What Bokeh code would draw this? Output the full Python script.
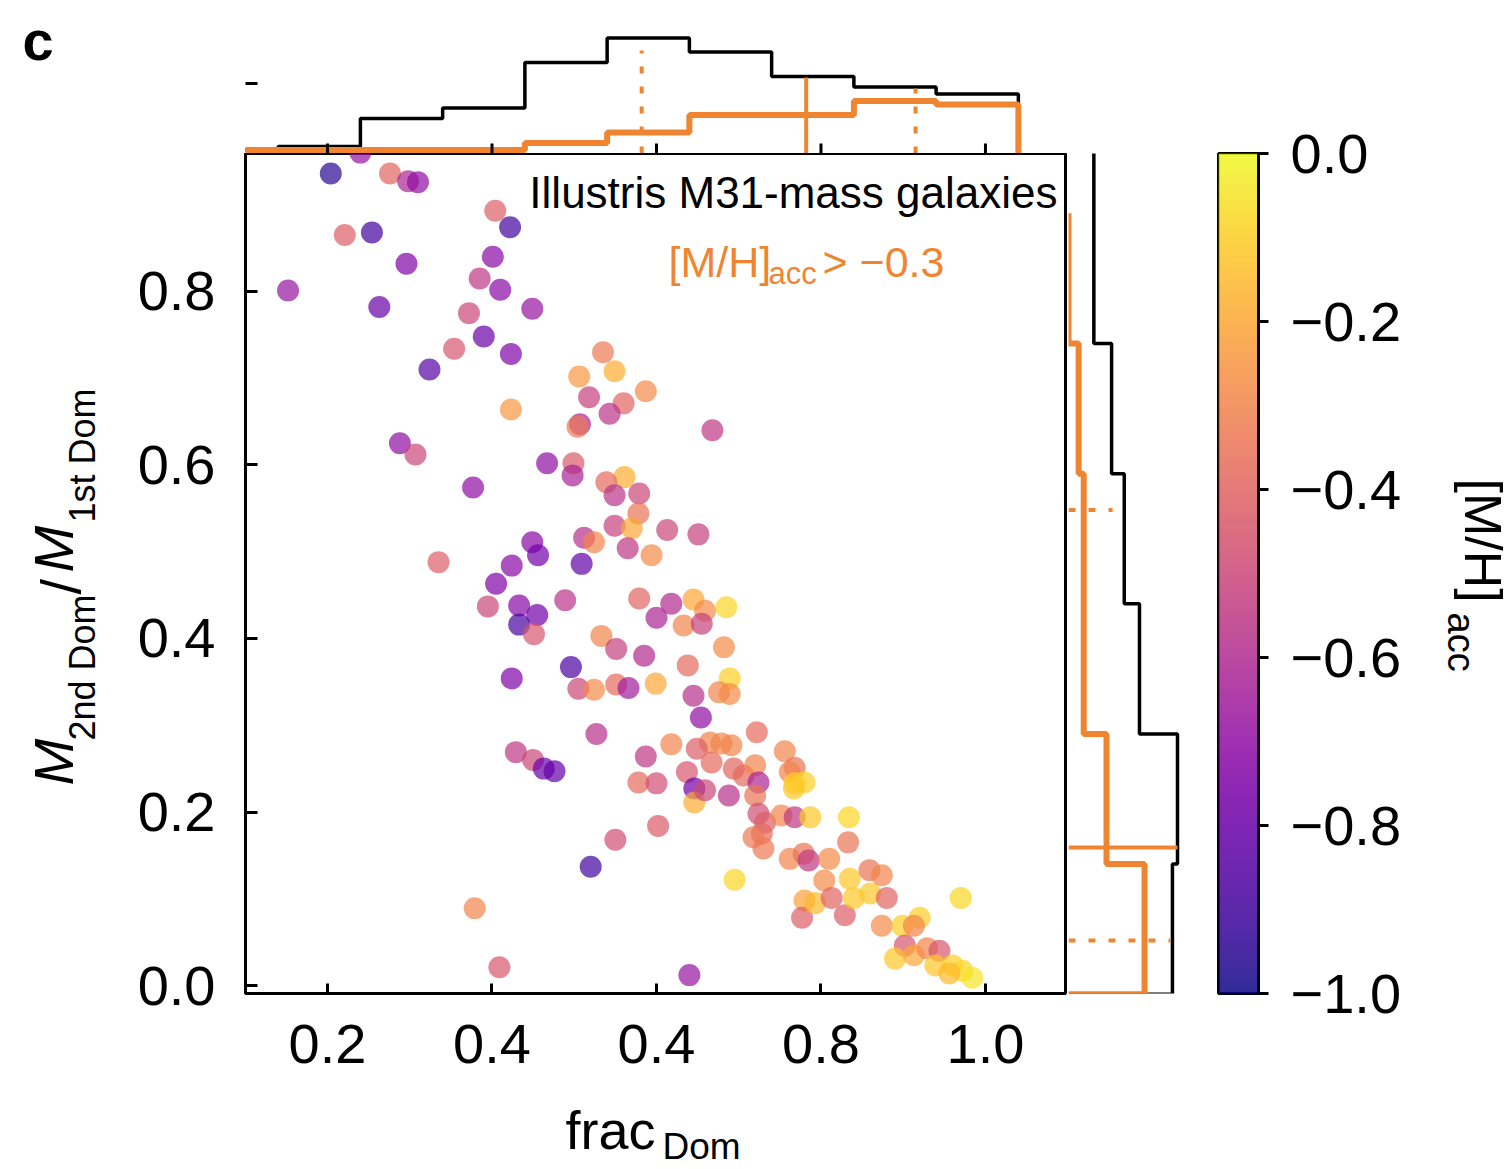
import numpy as np
from bokeh.plotting import figure
from bokeh.layouts import column, row
from bokeh.models import (Range1d, FixedTicker, Label, LinearColorMapper,
                          ColumnDataSource, CustomJSTickFormatter)
from bokeh.transform import linear_cmap
from bokeh.palettes import Plasma256
from bokeh.embed import file_html
from bokeh.resources import INLINE

# ---------------- data ----------------
frac_dom = [0.204, 0.240, 0.276, 0.298, 0.310, 0.221, 0.254, 0.296, 0.152, 0.263,
            0.404, 0.422, 0.401, 0.385, 0.410, 0.449, 0.372, 0.390, 0.354, 0.423,
            0.324, 0.423, 0.535, 0.549, 0.506, 0.587, 0.518, 0.560, 0.543, 0.507,
            0.504, 0.288, 0.307, 0.377, 0.467, 0.499, 0.498, 0.561, 0.539, 0.549,
            0.579, 0.578, 0.549, 0.570, 0.512, 0.524, 0.565, 0.594, 0.449, 0.456,
            0.509, 0.335, 0.424, 0.405, 0.395, 0.433, 0.455, 0.433, 0.451, 0.489,
            0.579, 0.600, 0.533, 0.551, 0.585, 0.496, 0.424, 0.505, 0.524, 0.551,
            0.566, 0.599, 0.527, 0.587, 0.429, 0.450, 0.463, 0.476, 0.578, 0.600,
            0.602, 0.550, 0.520, 0.379, 0.409, 0.682, 0.638, 0.689, 0.676, 0.689,
            0.645, 0.654, 0.722, 0.618, 0.665, 0.679, 0.691, 0.649, 0.667, 0.637,
            0.646, 0.646, 0.659, 0.688, 0.694, 0.706, 0.720, 0.724, 0.720, 0.756,
            0.768, 0.762, 0.768, 0.780, 0.767, 0.724, 0.732, 0.728, 0.718, 0.730,
            0.752, 0.768, 0.787, 0.834, 0.695, 0.833, 0.762, 0.779, 0.785, 0.810,
            0.804, 0.780, 0.777, 0.793, 0.813, 0.829, 0.835, 0.840, 0.859, 0.860,
            0.874, 0.880, 0.874, 0.899, 0.920, 0.913, 0.902, 0.890, 0.913, 0.929,
            0.944, 0.939, 0.960, 0.972, 0.984, 0.956, 0.970, 0.640, 0.668, 0.613,
            0.651, 0.618, 0.645, 0.659, 0.685, 0.633, 0.655]
mass_ratio = [0.936, 0.960, 0.936, 0.927, 0.926, 0.865, 0.868, 0.832, 0.801, 0.782,
              0.893, 0.874, 0.840, 0.815, 0.802, 0.780, 0.775, 0.748, 0.734, 0.728,
              0.710, 0.664, 0.730, 0.708, 0.702, 0.685, 0.678, 0.671, 0.659, 0.647,
              0.644, 0.625, 0.612, 0.574, 0.602, 0.602, 0.588, 0.586, 0.580, 0.565,
              0.567, 0.544, 0.530, 0.527, 0.516, 0.511, 0.504, 0.496, 0.511, 0.496,
              0.486, 0.488, 0.484, 0.463, 0.437, 0.438, 0.427, 0.416, 0.405, 0.444,
              0.446, 0.424, 0.403, 0.388, 0.380, 0.367, 0.354, 0.342, 0.341, 0.347,
              0.343, 0.348, 0.290, 0.264, 0.269, 0.260, 0.250, 0.247, 0.234, 0.233,
              0.184, 0.168, 0.137, 0.089, 0.021, 0.390, 0.369, 0.354, 0.338, 0.336,
              0.334, 0.309, 0.292, 0.278, 0.280, 0.279, 0.277, 0.273, 0.257, 0.246,
              0.227, 0.211, 0.225, 0.219, 0.250, 0.242, 0.254, 0.234, 0.219, 0.270,
              0.251, 0.246, 0.233, 0.234, 0.227, 0.198, 0.188, 0.175, 0.171, 0.158,
              0.196, 0.194, 0.194, 0.194, 0.122, 0.165, 0.146, 0.152, 0.144, 0.146,
              0.121, 0.098, 0.078, 0.095, 0.101, 0.081, 0.123, 0.101, 0.133, 0.106,
              0.127, 0.101, 0.069, 0.069, 0.078, 0.069, 0.046, 0.031, 0.035, 0.043,
              0.040, 0.023, 0.023, 0.017, 0.009, 0.014, 0.101, 0.012, 0.640, 0.525,
              0.520, 0.440, 0.445, 0.432, 0.436, 0.415, 0.417]
mh_acc = [-0.95, -0.68, -0.40, -0.62, -0.70, -0.42, -0.90, -0.75, -0.68, -0.80,
          -0.42, -0.90, -0.72, -0.55, -0.72, -0.68, -0.50, -0.80, -0.45, -0.75,
          -0.85, -0.25, -0.33, -0.18, -0.25, -0.28, -0.52, -0.40, -0.57, -0.62,
          -0.33, -0.70, -0.50, -0.70, -0.70, -0.43, -0.62, -0.18, -0.38, -0.57,
          -0.50, -0.35, -0.52, -0.20, -0.58, -0.30, -0.55, -0.28, -0.72, -0.78,
          -0.82, -0.42, -0.72, -0.75, -0.50, -0.72, -0.78, -0.88, -0.45, -0.57,
          -0.40, -0.62, -0.30, -0.52, -0.60, -0.88, -0.75, -0.50, -0.28, -0.38,
          -0.65, -0.20, -0.58, -0.55, -0.55, -0.50, -0.80, -0.82, -0.38, -0.48,
          -0.43, -0.48, -0.90, -0.30, -0.45, -0.28, -0.38, -0.10, -0.30, -0.28,
          -0.58, -0.70, -0.38, -0.30, -0.30, -0.30, -0.30, -0.42, -0.38, -0.45,
          -0.78, -0.18, -0.50, -0.58, -0.40, -0.38, -0.30, -0.62, -0.35, -0.30,
          -0.35, -0.30, -0.10, -0.10, -0.12, -0.48, -0.42, -0.38, -0.33, -0.33,
          -0.30, -0.55, -0.12, -0.08, -0.08, -0.35, -0.30, -0.35, -0.55, -0.28,
          -0.28, -0.22, -0.42, -0.15, -0.40, -0.42, -0.12, -0.12, -0.35, -0.12,
          -0.30, -0.40, -0.28, -0.10, -0.10, -0.30, -0.45, -0.12, -0.20, -0.30,
          -0.45, -0.12, -0.10, -0.08, -0.05, -0.15, -0.08, -0.68, -0.55, -0.50,
          -0.52, -0.60, -0.20, -0.28, -0.08, -0.30, -0.52]

# marginal histogram of frac_Dom (top)
top_edges = [0.04, 0.14, 0.24, 0.34, 0.44, 0.54, 0.64, 0.74, 0.84, 0.94, 1.04]
top_all = [1, 2, 10, 13, 26, 33, 29, 22, 19, 17]
top_rich = [1, 1, 1, 1, 3, 6, 11, 11, 15, 14]
top_rich_pct = [0.582, 0.782, 0.915]          # 16th, 50th, 84th percentile
top_rich_pct_h = [29.4, 21.7, 18.6]
top_y_ticks = [20]

# marginal histogram of mass ratio (right)
right_edges = [-0.01, 0.14, 0.29, 0.44, 0.59, 0.74, 0.89, 1.04]
right_all = [41, 43, 28, 22, 17, 10, 10]
right_rich = [30, 15, 6, 6, 4, 0]
right_rich_pct = [0.052, 0.159, 0.548]        # 16th, 50th, 84th percentile
right_rich_pct_len = [40.2, 43.0, 17.4]

x_ticks = [0.2, 0.4, 0.6, 0.8, 1.0]
x_tick_labels = ["0.2", "0.4", "0.4", "0.8", "1.0"]
y_ticks = [0.0, 0.2, 0.4, 0.6, 0.8]
y_tick_labels = ["0.0", "0.2", "0.4", "0.6", "0.8"]
cb_ticks = [-1.0, -0.8, -0.6, -0.4, -0.2, 0.0]
cb_tick_labels = ["\u22121.0", "\u22120.8", "\u22120.6", "\u22120.4", "\u22120.2", "0.0"]

# ---------------- styling ----------------
FONT = "Liberation Sans"
ORANGE = "#ef8530"
TICK_FS = "56px"
X0, X1 = 0.1003, 1.0973
Y0, Y1 = -0.0092, 0.959
TOP_MAX = 43.7
RIGHT_MAX = 52.07
MID = 0.35   # distance (in em) from the alphabetic baseline to the middle of the em box


def fmt(tk, lb):
    return CustomJSTickFormatter(args=dict(tk=tk, lb=lb), code="""
        const i = tk.findIndex(t => Math.abs(t - tick) < 1e-9);
        return i >= 0 ? lb[i] : '';
    """)


def step_xy(edges, counts):
    xs, ys = [edges[0]], [0]
    for i, c in enumerate(counts):
        xs += [edges[i], edges[i + 1]]
        ys += [c, c]
    xs.append(edges[len(counts)])
    ys.append(0)
    return xs, ys


def base_fig(**kw):
    p = figure(output_backend="svg", toolbar_location=None, **kw)
    p.grid.visible = False
    p.background_fill_color = "white"
    p.border_fill_color = "white"
    return p


def text_fig(width, height, fx0, fx1, fy0, fy1, bl=0, br=0, bt=0, bb=0):
    """Blank canvas; its frame spans page pixels fx0..fx1 / fy0..fy1 and data = page pixels."""
    p = base_fig(width=width, height=height,
                 x_range=Range1d(fx0, fx1), y_range=Range1d(fy1, fy0),
                 x_axis_location=None, y_axis_location=None,
                 min_border_left=bl, min_border_right=br, min_border_top=bt, min_border_bottom=bb)
    p.outline_line_color = None
    return p


def add_label(p, x, y, text, size_px, color="black", style="normal", angle=0.0, align="left"):
    p.add_layout(Label(x=x, y=y, text=text, text_font=FONT, text_font_size=f"{size_px}px",
                       text_color=color, text_font_style=style, angle=angle,
                       text_align=align, text_baseline="middle"))


def mxy(px, py):
    return X0 + (px - 245) * (X1 - X0) / 820, Y0 + (993 - py) * (Y1 - Y0) / 840


# ---------------- main scatter ----------------
main = base_fig(width=958, height=940, x_range=Range1d(X0, X1), y_range=Range1d(Y0, Y1),
                min_border_left=135, min_border_right=3, min_border_top=0, min_border_bottom=100)
main.outline_line_color = "black"
main.outline_line_width = 3
for ax in (main.xaxis[0], main.yaxis[0]):
    ax.axis_line_width = 3
    ax.major_tick_line_width = 3
    ax.major_tick_out = 0
    ax.minor_tick_line_color = None
    ax.major_label_text_font = FONT
    ax.major_label_text_font_size = TICK_FS
    ax.major_label_text_color = "black"
main.xaxis.ticker = FixedTicker(ticks=x_ticks)
main.xaxis.formatter = fmt(x_ticks, x_tick_labels)
main.xaxis.major_tick_in = 10
main.xaxis.major_label_standoff = 31
main.yaxis.ticker = FixedTicker(ticks=y_ticks)
main.yaxis.formatter = fmt(y_ticks, y_tick_labels)
main.yaxis.major_tick_in = 12
main.yaxis.major_label_standoff = 30

src = ColumnDataSource(dict(x=frac_dom, y=mass_ratio, mh=mh_acc))
main.scatter("x", "y", source=src, size=22,
             fill_color=linear_cmap("mh", Plasma256, -1.0, 0.0),
             fill_alpha=0.7, line_color=None)

add_label(main, *mxy(1057, 207 - MID * 44), "Illustris M31-mass galaxies", 44, align="right")
add_label(main, *mxy(668, 277 - MID * 43), "[M/H]", 43, color=ORANGE)
add_label(main, *mxy(768, 284 - MID * 31), "acc", 31, color=ORANGE)
add_label(main, *mxy(822, 277 - MID * 43), "> \u22120.3", 43, color=ORANGE)

# ---------------- x-axis title strip (frame aligned with the main frame) ----------------
xlab = text_fig(958, 76, 245, 1065, 1093, 1169, bl=135, br=3)
add_label(xlab, 565, 1148 - MID * 54, "frac", 54)
add_label(xlab, 662, 1159 - MID * 37, "Dom", 37)

# ---------------- y-axis title strip ----------------
ylab = text_fig(110, 1016, 0, 110, 153, 993, bb=176)
a = np.pi / 2
add_label(ylab, 73 - MID * 56, 785, "M", 56, style="italic", angle=a)
add_label(ylab, 95 - MID * 36, 740, "2nd Dom", 36, angle=a)
add_label(ylab, 80 - MID * 56, 594, "/", 56, angle=a)
add_label(ylab, 73 - MID * 56, 572, "M", 56, style="italic", angle=a)
add_label(ylab, 95 - MID * 36, 522, "1st Dom", 36, angle=a)

# ---------------- panel letter ----------------
cfig = text_fig(245, 153, 0, 245, 0, 153)
add_label(cfig, 22, 60 - MID * 56, "c", 56, style="bold")

# ---------------- top histogram ----------------
top = base_fig(width=823, height=153, x_range=main.x_range, y_range=Range1d(0, TOP_MAX),
               x_axis_location=None, y_axis_location=None,
               min_border_left=0, min_border_right=3, min_border_top=0, min_border_bottom=0)
top.outline_line_color = None
xs, ys = step_xy(top_edges, top_all)
top.line(xs, ys, line_color="black", line_width=3.5)
xs, ys = step_xy(top_edges, top_rich)
top.line(xs, ys, line_color=ORANGE, line_width=6)
for i, (xv, h) in enumerate(zip(top_rich_pct, top_rich_pct_h)):
    top.line([xv, xv], [0, h], line_color=ORANGE, line_width=4,
             line_dash="solid" if i == 1 else "7 13")
top.scatter(x=x_ticks, y=[0] * len(x_ticks), marker="dash", angle=np.pi / 2, size=20,
            line_color="black", line_width=3)
top.scatter(x=[X0] * len(top_y_ticks), y=top_y_ticks, marker="dash", size=24,
            line_color="black", line_width=3)

# ---------------- right histogram ----------------
right = base_fig(width=132, height=1016, x_range=Range1d(0, RIGHT_MAX), y_range=main.y_range,
                 x_axis_location=None, y_axis_location=None,
                 min_border_left=0, min_border_right=0, min_border_top=0, min_border_bottom=176)
right.outline_line_color = None
ys_, xs_ = step_xy(right_edges, right_all)
right.line(xs_, ys_, line_color="black", line_width=3.5)
ys_, xs_ = step_xy(right_edges[:len(right_rich) + 1], right_rich)
right.line(xs_, ys_, line_color=ORANGE, line_width=6)
for i, (yv, L) in enumerate(zip(right_rich_pct, right_rich_pct_len)):
    right.line([0, L], [yv, yv], line_color=ORANGE, line_width=4,
               line_dash="solid" if i == 1 else "7 13")

# ---------------- colour bar ----------------
cb = base_fig(width=229, height=1169, x_range=Range1d(0, 1), y_range=Range1d(-1, 0),
              x_axis_location=None, y_axis_location="right",
              min_border_left=18, min_border_right=171, min_border_top=153, min_border_bottom=176)
cmap = LinearColorMapper(palette=Plasma256, low=-1.0, high=0.0)
cb.image(image=[np.linspace(-1.0, 0.0, 256).reshape(256, 1)], x=0, y=-1, dw=1, dh=1,
         color_mapper=cmap, global_alpha=0.85)
cb.outline_line_color = "black"
cb.outline_line_width = 3
cax = cb.yaxis[0]
cax.ticker = FixedTicker(ticks=cb_ticks)
cax.formatter = fmt(cb_ticks, cb_tick_labels)
cax.axis_line_width = 3
cax.major_tick_line_width = 3
cax.major_tick_in = 0
cax.major_tick_out = 10
cax.minor_tick_line_color = None
cax.major_label_standoff = 22
cax.major_label_text_font = FONT
cax.major_label_text_font_size = TICK_FS
cax.major_label_text_color = "black"

cbt = text_fig(82, 1169, 1429, 1511, 153, 993, bt=153, bb=176)
add_label(cbt, 1464 + MID * 52, 478, "[M/H]", 52, angle=-np.pi / 2)
add_label(cbt, 1447 + MID * 38, 612, "acc", 38, angle=-np.pi / 2)

left_block = column(
    row(cfig, top),
    row(ylab, column(main, xlab), right),
)
layout = row(left_block, cb, cbt)
open("out.html", "w").write(file_html(layout, INLINE))
